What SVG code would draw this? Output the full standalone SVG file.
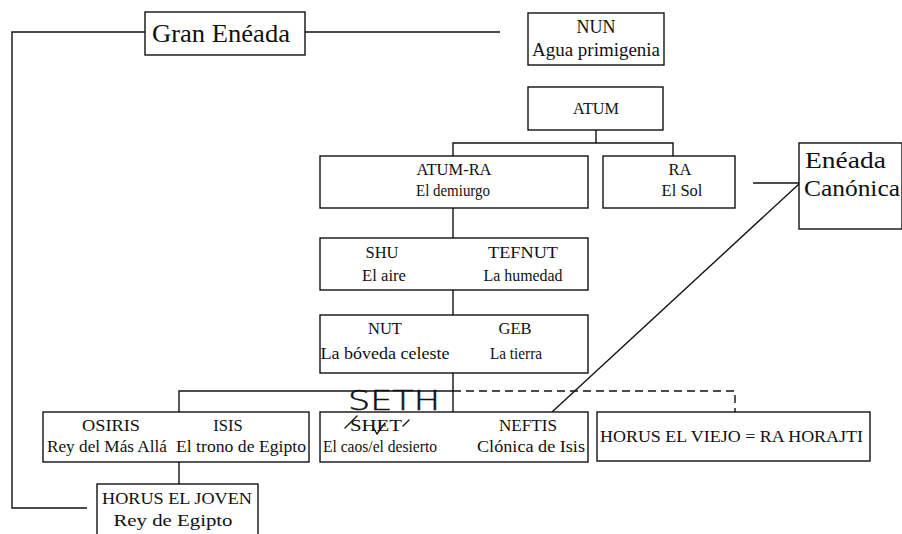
<svg xmlns="http://www.w3.org/2000/svg" width="902" height="534" viewBox="0 0 902 534">
<style>
.box{fill:#fff;stroke:#111;stroke-width:1.4}
.ln{fill:none;stroke:#111;stroke-width:1.4}
.dash{fill:none;stroke:#111;stroke-width:1.4;stroke-dasharray:8 5}
.t{font-family:"Liberation Serif","Times New Roman",serif;font-size:16.5px;fill:#111}
.m{text-anchor:middle}
.big{font-size:26px}
.hand{font-family:"DejaVu Sans","Liberation Sans",sans-serif;font-weight:200;font-size:26px;fill:#111;stroke:#111;stroke-width:0.5}
.mark{fill:none;stroke:#111;stroke-width:1.3;stroke-linecap:round}
</style>
<rect width="902" height="534" fill="#fff"/>
<g id="connectors">
  <polyline class="ln" points="145,32 12,32 12,508 87,508"/>
  <line class="ln" x1="305" y1="32" x2="500" y2="32"/>
  <line class="ln" x1="596" y1="130" x2="596" y2="143"/>
  <polyline class="ln" points="453,156 453,143 673,143 673,156"/>
  <line class="ln" x1="453" y1="208" x2="453" y2="238"/>
  <line class="ln" x1="453" y1="290" x2="453" y2="315"/>
  <line class="ln" x1="453" y1="373" x2="453" y2="412"/>
  <polyline class="ln" points="179,412 179,391 453,391"/>
  <polyline class="dash" points="453,391 735,391 735,412"/>
  <line class="ln" x1="179" y1="462" x2="179" y2="484"/>
  <line class="ln" x1="753" y1="183" x2="799" y2="183"/>
  <line class="ln" x1="799" y1="184" x2="552" y2="412"/>
</g>
<g id="gran-eneada">
  <rect class="box" x="145" y="12" width="160" height="43"/>
  <text class="t big" x="152" y="42" textLength="138" lengthAdjust="spacingAndGlyphs">Gran Enéada</text>
</g>
<g id="nun">
  <rect class="box" x="528" y="13" width="136" height="52"/>
  <text class="t m" x="596" y="33" style="font-size:18px">NUN</text>
  <text class="t m" x="596" y="56" style="font-size:18px" textLength="128" lengthAdjust="spacingAndGlyphs">Agua primigenia</text>
</g>
<g id="atum">
  <rect class="box" x="528" y="87" width="135" height="43"/>
  <text class="t m" x="596" y="114" textLength="46" lengthAdjust="spacingAndGlyphs">ATUM</text>
</g>
<g id="atum-ra">
  <rect class="box" x="320" y="156" width="268" height="52"/>
  <text class="t m" x="454" y="175" textLength="75" lengthAdjust="spacingAndGlyphs">ATUM-RA</text>
  <text class="t m" x="453" y="196" textLength="74" lengthAdjust="spacingAndGlyphs">El demiurgo</text>
</g>
<g id="ra">
  <rect class="box" x="603" y="156" width="132" height="52"/>
  <text class="t m" x="680" y="175">RA</text>
  <text class="t m" x="682" y="196">El Sol</text>
</g>
<g id="eneada-canonica">
  <rect class="box" x="799" y="143" width="103" height="86"/>
  <text class="t" x="805" y="168" style="font-size:24px" textLength="81" lengthAdjust="spacingAndGlyphs">Enéada</text>
  <text class="t" x="804" y="196" style="font-size:24px" textLength="96" lengthAdjust="spacingAndGlyphs">Canónica</text>
</g>
<g id="shu-tefnut">
  <rect class="box" x="320" y="238" width="268" height="52"/>
  <text class="t m" x="382" y="258">SHU</text>
  <text class="t m" x="384" y="281" textLength="44" lengthAdjust="spacingAndGlyphs">El aire</text>
  <text class="t m" x="523" y="258" textLength="70" lengthAdjust="spacingAndGlyphs">TEFNUT</text>
  <text class="t m" x="523" y="281" textLength="79" lengthAdjust="spacingAndGlyphs">La humedad</text>
</g>
<g id="nut-geb">
  <rect class="box" x="320" y="315" width="268" height="58"/>
  <text class="t m" x="385" y="334">NUT</text>
  <text class="t m" x="385" y="359" textLength="129" lengthAdjust="spacingAndGlyphs">La bóveda celeste</text>
  <text class="t m" x="515" y="334">GEB</text>
  <text class="t m" x="516" y="359" textLength="52" lengthAdjust="spacingAndGlyphs">La tierra</text>
</g>
<g id="osiris-isis">
  <rect class="box" x="43" y="412" width="266" height="50"/>
  <text class="t m" x="111" y="431" textLength="58" lengthAdjust="spacingAndGlyphs">OSIRIS</text>
  <text class="t m" x="107" y="452" textLength="120" lengthAdjust="spacingAndGlyphs">Rey del Más Allá</text>
  <text class="t m" x="228" y="431">ISIS</text>
  <text class="t m" x="241" y="452" textLength="130" lengthAdjust="spacingAndGlyphs">El trono de Egipto</text>
</g>
<g id="seth-neftis">
  <rect class="box" x="320" y="412" width="268" height="50"/>
  <text class="hand" x="348" y="410" textLength="92" lengthAdjust="spacingAndGlyphs">SETH</text>
  <text class="t m" x="376" y="431" textLength="52" lengthAdjust="spacingAndGlyphs">SHET</text>
  <path class="mark" d="M345,428 L357,416 M373,427 L377,434 L385,423 M403,426 L409,420"/>
  <text class="t m" x="380" y="452" textLength="114" lengthAdjust="spacingAndGlyphs">El caos/el desierto</text>
  <text class="t m" x="528" y="431" textLength="58" lengthAdjust="spacingAndGlyphs">NEFTIS</text>
  <text class="t m" x="531" y="452" textLength="108" lengthAdjust="spacingAndGlyphs">Clónica de Isis</text>
</g>
<g id="horus-viejo">
  <rect class="box" x="597" y="412" width="273" height="49"/>
  <text class="t" x="600" y="442" style="font-size:17.5px" textLength="263" lengthAdjust="spacingAndGlyphs">HORUS EL VIEJO = RA HORAJTI</text>
</g>
<g id="horus-joven">
  <rect class="box" x="97" y="484" width="161" height="60"/>
  <text class="t m" x="177" y="504" style="font-size:17.5px" textLength="150" lengthAdjust="spacingAndGlyphs">HORUS EL JOVEN</text>
  <text class="t m" x="173" y="526" style="font-size:17.5px" textLength="119" lengthAdjust="spacingAndGlyphs">Rey de Egipto</text>
</g>
</svg>
